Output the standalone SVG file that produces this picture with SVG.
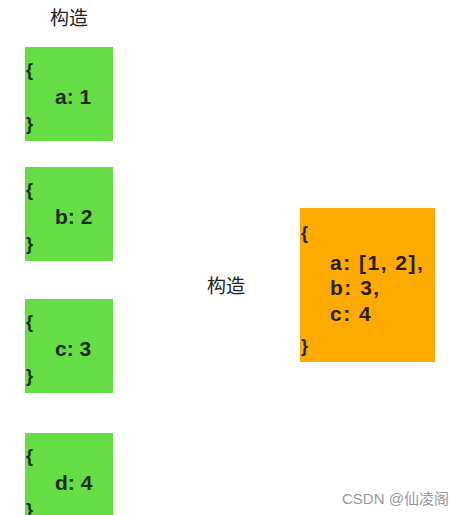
<svg xmlns="http://www.w3.org/2000/svg" width="473" height="515" viewBox="0 0 473 515">
<style>
.g{fill:#66dd44}
.o{fill:#ffaa00}
.t{font-family:"Liberation Sans",Arial,sans-serif;font-size:21px;font-weight:bold;fill:#1c2a10}
.b{font-family:"Liberation Sans",Arial,sans-serif;font-size:18px;font-weight:bold;fill:#1c2a10}
.s{letter-spacing:1.5px;fill:#2a1e05}
.l{font-family:"Noto Sans CJK SC",sans-serif;font-size:19px;fill:#222}
.w{font-family:"Liberation Sans","Noto Sans CJK SC",sans-serif;font-size:15px;fill:#999}
</style>
<rect width="473" height="515" fill="#fff"/>
<text class="l" x="50" y="25">构造</text>
<g id="n1"><rect class="g" x="25" y="47" width="88" height="94"/>
<text class="b" x="26" y="76">{</text><text class="t" x="55" y="104">a: 1</text><text class="b" x="26" y="130">}</text></g>
<g id="n2"><rect class="g" x="25" y="167" width="88" height="94"/>
<text class="b" x="26" y="196">{</text><text class="t" x="55" y="224">b: 2</text><text class="b" x="26" y="250">}</text></g>
<g id="n3"><rect class="g" x="25" y="299" width="88" height="94"/>
<text class="b" x="26" y="328">{</text><text class="t" x="55" y="356">c: 3</text><text class="b" x="26" y="382">}</text></g>
<g id="n4"><rect class="g" x="25" y="433" width="88" height="94"/>
<text class="b" x="26" y="462">{</text><text class="t" x="55" y="490">d: 4</text><text class="b" x="26" y="516">}</text></g>
<text class="l" x="207" y="293">构造</text>
<g id="n5"><rect class="o" x="300" y="208" width="135" height="154"/>
<text class="b" x="301" y="239">{</text>
<text class="t s" x="330" y="270">a: [1, 2],</text>
<text class="t s" x="330" y="295">b: 3,</text>
<text class="t s" x="330" y="321">c: 4</text>
<text class="b" x="301" y="352">}</text></g>
<g id="connectors"></g>
<text class="w" x="342" y="504">CSDN @仙凌阁</text>
</svg>
